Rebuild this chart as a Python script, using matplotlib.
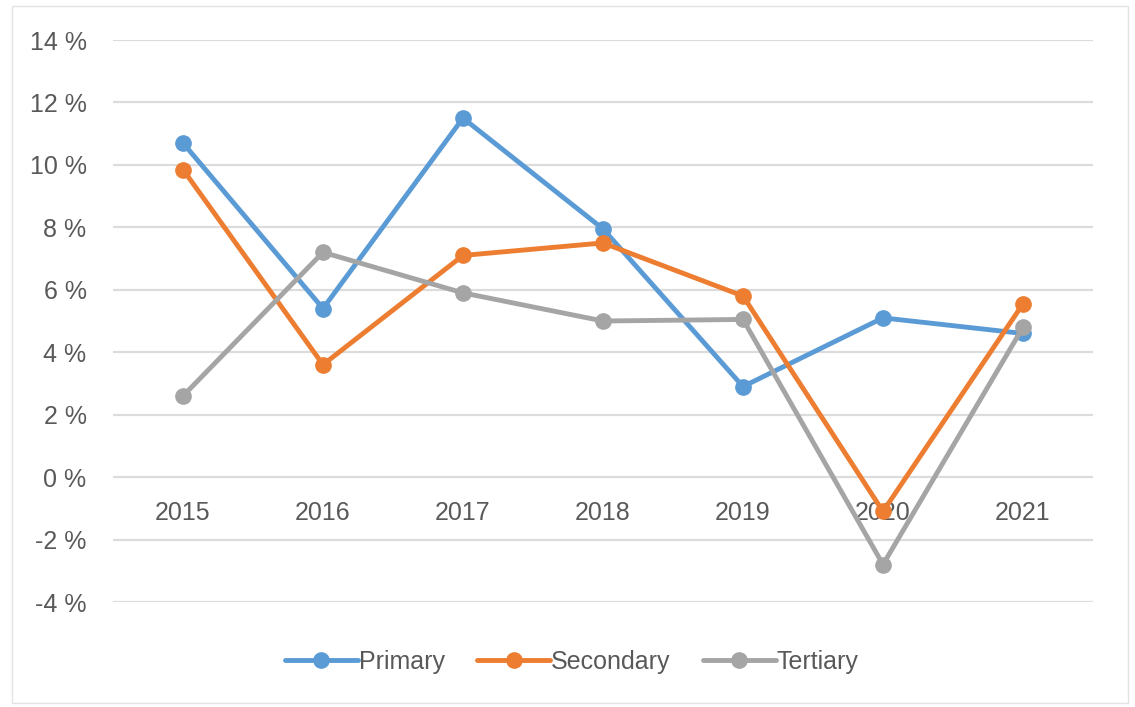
import matplotlib.pyplot as plt
from matplotlib.patches import Rectangle
from matplotlib.ticker import FuncFormatter

# data
years = ['2015', '2016', '2017', '2018', '2019', '2020', '2021']
primary = [10.7, 5.4, 11.5, 7.95, 2.9, 5.1, 4.6]
secondary = [9.85, 3.6, 7.1, 7.5, 5.8, -1.1, 5.55]
tertiary = [2.6, 7.2, 5.9, 5.0, 5.05, -2.8, 4.8]
y_ticks = [-4, -2, 0, 2, 4, 6, 8, 10, 12, 14]

plt.rcParams['font.family'] = ['Liberation Sans', 'DejaVu Sans']
txt_color = '#595959'

fig = plt.figure(figsize=(11.35, 7.07), dpi=100)
ax = fig.add_axes([113 / 1135, 1 - 602 / 707, 980 / 1135, 562 / 707])

x = list(range(len(years)))
series = [
    ('Primary', primary, '#5B9BD5'),
    ('Secondary', secondary, '#ED7D31'),
    ('Tertiary', tertiary, '#A5A5A5'),
]
for name, vals, col in series:
    ax.plot(x, vals, color=col, lw=3.5, marker='o', markersize=11,
            label=name, solid_capstyle='round', solid_joinstyle='round')

ax.set_xlim(-0.5, len(years) - 0.5)
ax.set_ylim(-4, 14)
ax.set_yticks(y_ticks)
ax.yaxis.set_major_formatter(FuncFormatter(lambda v, p: f'{int(v)} %'))
ax.set_xticks(x)
ax.set_xticklabels(years)

# category labels sit under the 0 line, like excel
ax.spines['bottom'].set_position(('data', 0))
for s in ax.spines.values():
    s.set_visible(False)
ax.tick_params(axis='x', length=0, pad=17, labelsize=18, labelcolor=txt_color)
ax.tick_params(axis='y', length=0, pad=19, labelsize=18, labelcolor=txt_color)
ax.grid(axis='y', color='#DCDCDC', lw=1.6)
ax.set_axisbelow(True)

leg = fig.legend(loc='center', bbox_to_anchor=(572 / 1135, 1 - 662 / 707), ncol=3,
                 frameon=False, fontsize=18, handlelength=2.9, handletextpad=0.05,
                 columnspacing=1.3, labelcolor=txt_color)

# faint chart border
fig.patches.append(Rectangle((12 / 1135, 4 / 707), 1116 / 1135, 697 / 707,
                             transform=fig.transFigure, fill=False,
                             edgecolor='#E3E3E3', lw=1))

fig.savefig('out.png', dpi=100)
